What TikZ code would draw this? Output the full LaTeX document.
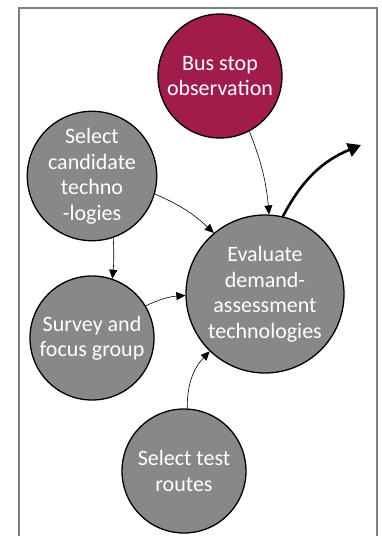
\documentclass[tikz,border=0pt]{standalone}
\usepackage{fontspec}
\setmainfont{Carlito}
\usetikzlibrary{arrows.meta}
\definecolor{maroon}{HTML}{A21C4B}
\definecolor{nodegray}{HTML}{888888}
\definecolor{framegray}{HTML}{7F7F7F}
\begin{document}
\begin{tikzpicture}[x=1pt,y=-1pt,
  bubble/.style={circle,draw=black,line width=1.3pt,fill=nodegray,text=white,
    align=center,inner sep=0pt,minimum size=124pt,
    font=\fontsize{22}{25.5}\selectfont},
  thin/.style={-{Triangle[length=9pt,width=8pt]},line width=0.6pt},
  thick/.style={-{Triangle[length=13pt,width=14pt]},line width=2.6pt}]
\useasboundingbox (0,0) rectangle (381,536);
\fill[white] (0,0) rectangle (381,536);
\begin{scope}
\clip (0,0) rectangle (381,536);
\draw[framegray,line width=1.2pt] (19,8) rectangle (377,560);
\end{scope}
\node[bubble,fill=maroon] (bus) at (220,76) {Bus stop\\observation};
\node[bubble] (cand) at (92,176) {Select\\candidate\\techno\\-logies};
\node[bubble,minimum size=158pt] (eval) at (265,294) {Evaluate\\demand-\\assessment\\technologies};
\node[bubble] (survey) at (92,338) {Survey and\\focus group};
\node[bubble] (routes) at (184,471) {Select test\\routes};
\coordinate (out) at (361,145);
\draw[thin] (bus.-62) to[bend left=8] (eval.87);
\draw[thin] (cand.-16) to[bend left=10] (eval.130);
\draw[thin] (cand.-71) to[bend left=4] (survey.71);
\draw[thin] (survey.31) to[bend left=10] (eval.181);
\draw[thin] (routes.87) to[bend left=22] (eval.226);
\draw[thick] (eval.77) to[bend left=20] (out);
\end{tikzpicture}
\end{document}
